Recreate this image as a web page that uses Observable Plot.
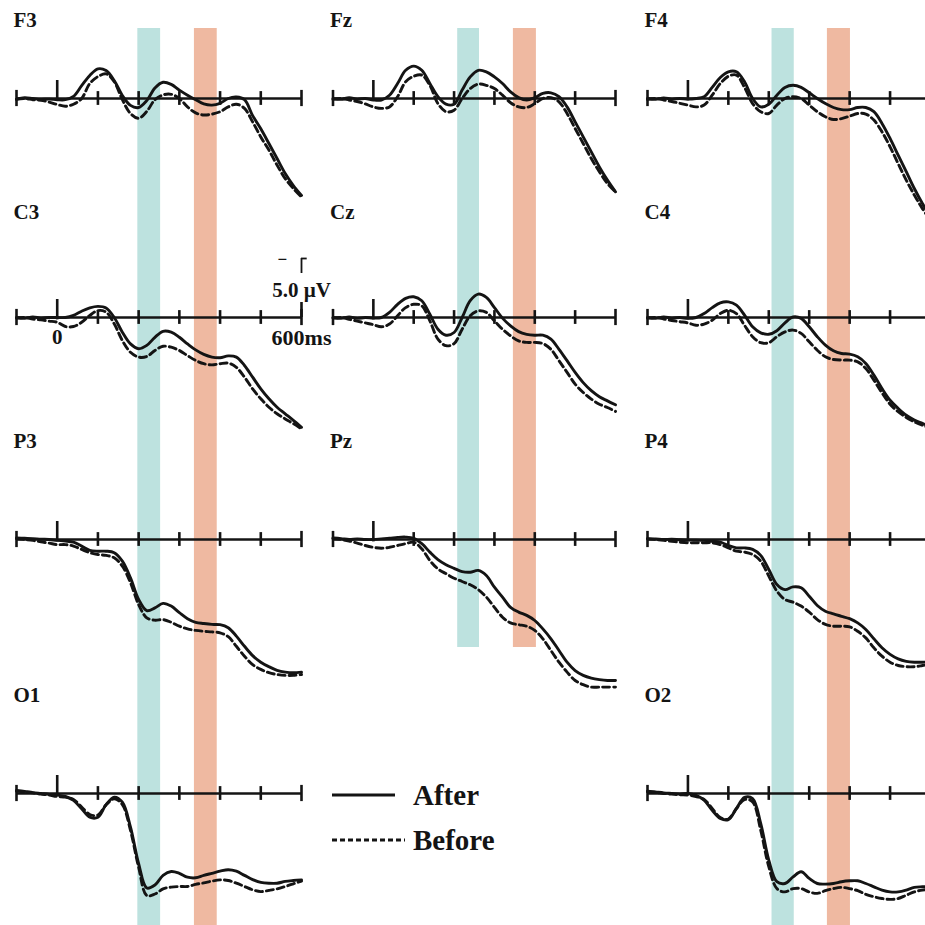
<!DOCTYPE html>
<html><head><meta charset="utf-8">
<script src="https://cdn.jsdelivr.net/npm/d3@7"></script>
<script src="https://cdn.jsdelivr.net/npm/@observablehq/plot@0.6"></script>
<style>
html,body{margin:0;padding:0;background:#fff;}
#fig{position:relative;width:925px;height:925px;overflow:hidden;background:#fff;}
</style></head><body><div id="fig"></div>
<script>
// ---------- data ----------
const times = [-100,-80,-60,-40,-20,0,20,40,60,80,100,120,140,160,180,200,220,240,260,280,300,320,340,360,380,400,420,440,460,480,500,520,540,560,580,600];
const conditions = ["After", "Before"];
const tickTimes = [-100,0,100,200,300,400,500,600];
const tealBands = [[198,254],[209,263],[208,263]];
const orangeBands = [[337,393],[347,404],[345,402]];
const calibUV = 5.0;

const F3After  = [0.2,-0.3,0,0.3,0.2, 0.4,0.4,-0.7,-4.3,-7.7,-9.9,-9.3,-6,-1,2.3,3.0,0.7,-3.5,-5.4,-4.7,-2.8,-1.1,0.4,1.8,2.2,1.6,0,-0.5,0.4,5.7,10.1,15,20,25,29,32.3];
const F3Before = [0.3,0,0.4,0.6,1.2, 2.0,2.6,1.9,0,-5,-7.3,-8.2,-5.6,0.4,5,6.6,4.3,0.4,-1.2,-1.4,0,2.8,4.8,5.5,5.2,4.4,2.8,1.9,3.3,7.8,12.8,17.2,22.2,26.7,30,32.8];
const C3After  = [0,0.3,-0.2,0.2,0, 0,0,-0.7,-2.1,-3.2,-3.7,-3.2,0,4.9,8.8,10.4,9.3,6.6,4.6,4.9,6.6,8.8,10.8,12.3,13.2,13.4,12.8,13.2,16,19.9,23.8,27.1,29.9,32.1,34.3,36.6];
const C3Before = [0.2,0,0.5,0.8,1.2, 1.6,3,3,1.6,-0.7,-2.3,-1.8,2.1,7.7,11.6,13.2,13,11,9.6,9.9,11,12.7,14.3,15.4,15.8,15.4,15.2,16.6,19.9,23.8,27.1,29.9,32.1,33.8,35.4,37.1];
const P3After  = [-0.5,-0.4,-0.3,-0.1,0, 0.3,0.5,0.9,2.2,3.6,3.9,3.9,4.4,7.2,12.8,20,23.7,22.8,21.3,22.2,24.4,26.4,27.6,28,28.3,28.4,29.4,32.2,35.6,38.7,40.9,42.4,43.6,44.2,44.4,44.2];
const P3Before = [-0.3,0,0.3,0.8,1.2, 1.7,1.7,2.2,3.3,4.4,5,5.3,6.1,8.9,14.4,21.7,26.1,26.9,26.7,27.6,28.9,29.8,30.3,30.6,30.8,31.1,32.4,35.6,38.9,41.7,43.3,44.4,45,45.3,45.3,45];
const O1After  = [-1,-0.7,-0.3,0,0.3, 0.5,1,2.3,5.1,7.9,7.9,3.7,1.2,2.9,11.2,23.4,31.5,30.5,27.3,26,26.6,27.9,28.1,27.3,26.6,25.9,25.4,25.9,27.3,28.7,29.6,29.9,29.9,29.3,29,28.8];
const O1Before = [-0.8,-0.5,-0.2,0.2,0.5, 1,1.2,2,4.5,7,7.2,3.8,1.8,3.7,12.3,24.6,34,33.5,31.8,31.2,31,31,30.3,29.8,29.2,28.8,29,29.9,31,32.1,32.7,32.3,31.8,31,30.1,29.2];
const FzAfter  = [0,0.3,-0.3,0.2,0, 0.5,0.5,-1.1,-5,-9.4,-10.8,-9.4,-5,-0.6,1.9,1.9,-2.8,-7.2,-9.4,-8.9,-7.2,-5,-2.2,-0.3,0.5,-0.3,-1.7,-1.9,-0.6,2.8,7.8,12.8,17.8,22.8,27.2,31.1];
const FzBefore = [0.3,0,0.5,1,1.8, 2.8,3.3,2.8,-0.6,-5.6,-7.4,-7.8,-4.4,1.7,4.4,3.9,0,-3.3,-4.8,-4.4,-3.3,-1.1,1.4,2.8,3,1.7,0,-0.3,1.1,5,10,15,20,24.4,28.3,31.1];
const CzAfter  = [0,0.3,-0.2,0.3,0, 0.2,0,-1.7,-4.4,-6.4,-6.9,-5.6,-1.1,3.9,5.9,5,0,-5.6,-7.8,-6.7,-3.3,0.2,2.8,4.7,5.6,5.9,5.9,7.2,10.6,14.4,18.3,21.7,24.4,26.4,27.8,29.1];
const CzBefore = [0.2,0,0.6,1.2,1.8, 2.4,3.1,2.2,-0.6,-3.3,-4.4,-3.9,1.1,7.2,9.4,8.7,3.9,-0.6,-2.2,-1.7,1.1,3.9,6.1,7.8,8.3,8.3,8.7,10.6,14.4,18.3,22.2,25,27.2,28.9,30,31.3];
const PzAfter  = [-0.5,-0.3,0,-0.2,0, 0,-0.2,-0.4,-0.7,-0.8,-0.4,1.4,4.2,6.7,8.4,9.6,10.7,10.9,10.3,12,15.9,19.2,22.6,24.2,25.3,27,29.8,33.1,37,40.9,43.7,45.3,46.2,46.7,47,47];
const PzBefore = [-0.3,0,0.5,1.2,2, 2.6,2.9,2.6,2,1.4,0.9,3.1,7,9.8,11.4,12.9,14,15.1,16.7,19.2,22.6,25.9,27.8,28.4,28.9,30.3,33.1,37,40.9,44.2,47,48.4,49.2,49.2,49.2,49.2];
const F4After  = [0,0.3,-0.2,0.2,0, 0.2,0,-0.6,-3.7,-7,-8.9,-8.9,-5.6,0,2.8,1.9,-1.1,-3.7,-4.4,-3.7,-1.9,0,1.7,3,3.7,3.7,3,3,4.4,8.3,13.3,18.9,24.4,30,35,39.4];
const F4Before = [0.3,0,0.5,1,1.6, 2.2,2.8,2.2,-1.1,-5,-7.4,-7.8,-3.7,1.7,4.4,5,2.2,0,-0.6,0,2.2,4.4,6.1,7,6.7,5.9,5,5.2,7.2,11.1,16.1,21.7,27.2,32.2,36.7,40.6];
const C4After  = [0,0.3,-0.2,0.2,0, 0.3,0,-1.3,-3.3,-4.9,-5.2,-4.1,-0.8,3.1,5.1,5.6,4.4,1.8,-0.2,0.3,3.1,6.4,9.2,11.1,12,12.2,13.1,15.3,19.2,23.7,27.6,30.3,32.6,34.2,35.3,36.4];
const C4Before = [0.2,0,0.5,1,1.4, 1.8,2.6,2.2,0.9,-1.3,-2.4,-1.3,2.6,6.4,8.4,8.4,6.4,4.8,4.2,5.3,8.1,10.9,13.1,14,14.2,14.2,14.8,17,20.9,25.1,28.9,31.4,33.3,34.8,35.9,37];
const P4After  = [-0.3,-0.2,0,-0.1,0.1, 0.2,0.2,0.3,0.6,0.9,2,2.8,2.8,3.3,5.3,10,15,16.7,15.8,16.1,18.9,22,23.9,24.8,25.6,26.4,27.8,30,33.1,36.1,38.3,39.8,40.6,40.9,40.9,40.8];
const P4Before = [-0.2,0,0.3,0.6,0.9, 1.1,1.1,1.1,1.1,1.7,2.8,3.9,4.2,5,7.2,12.2,17.2,20,20.9,22.2,24.2,26.7,28.3,28.9,28.9,29.1,30.6,32.8,36.1,38.9,40.9,42,42.4,42.4,42,41.5];
const O2After  = [-0.8,-0.5,-0.2,0,0.2, 0,0.6,2.2,5.6,8.3,8.7,5,1.3,1.7,10,22.2,29.4,30,27.8,26.1,28.3,30,30.2,30,29.4,29.1,29.1,30,31.1,32.2,32.8,32.8,32.2,31.3,31.1,31];
const O2Before = [-0.6,-0.4,0,0.2,0.4, 0.5,1,2,5,8,8.5,5,2,2.8,12.2,24.4,31.7,32.8,31.7,31.7,32.8,33.3,32.4,31.7,31.3,31.7,32.4,33.6,34.4,35,35.3,35,33.9,32.8,32.2,32];

const channelSeries = {
  F3:[F3After,F3Before], C3:[C3After,C3Before], P3:[P3After,P3Before], O1:[O1After,O1Before],
  Fz:[FzAfter,FzBefore], Cz:[CzAfter,CzBefore], Pz:[PzAfter,PzBefore],
  F4:[F4After,F4Before], C4:[C4After,C4Before], P4:[P4After,P4Before], O2:[O2After,O2Before]
};

// ---------- layout ----------
const H = 925, PX_PER_UV = 3;
const rowBase = [98, 317, 539, 793];   // pixel row of each zero line
const labelY  = [20, 212, 441, 695];   // pixel centre of channel names
const bandTop = 28, bandBottom = [925, 647, 925];
const columns = [
  {left:0,   width:320, mL:16,   mR:19, chans:["F3","C3","P3","O1"]},
  {left:316, width:320, mL:16.5, mR:21, chans:["Fz","Cz","Pz",null]},
  {left:631, width:320, mL:16,   mR:21, chans:["F4","C4","P4","O2"]}
];
const FONT = "'Liberation Serif','Times New Roman',serif";
const INK = "#141414";
const TEAL = "#bde2df", ORANGE = "#efb9a1";
const LW = 2.9, AXW = 2.6, DASH = "7,4";
const u = px => px / PX_PER_UV;   // pixel -> plot units (µV)

const fig = document.getElementById("fig");

columns.forEach((col, ci) => {
  const rows = col.chans.map((ch, r) => ({ch, r, base: u(rowBase[r])})).filter(d => d.ch);
  const pts = [];
  rows.forEach(row => {
    channelSeries[row.ch].forEach((arr, k) => {
      times.forEach((t, i) => pts.push({t, cond: conditions[k], ch: row.ch, y: row.base + arr[i]}));
    });
  });
  const ticks = [];
  rows.forEach(row => tickTimes.forEach(t => {
    let a = 2.3, b = 2.3;
    if (t === 0) { a = 6; b = 0.8; }
    if (t === -100 || t === 600) { a = 2.7; b = 2.7; }
    ticks.push({t, y1: row.base - a, y2: row.base + b});
  }));
  const marks = [
    Plot.rect([tealBands[ci]], {x1: d => d[0], x2: d => d[1], y1: u(bandTop), y2: u(bandBottom[ci]), fill: TEAL}),
    Plot.rect([orangeBands[ci]], {x1: d => d[0], x2: d => d[1], y1: u(bandTop), y2: u(bandBottom[ci]), fill: ORANGE}),
    Plot.ruleY(rows, {y: "base", x1: -100, x2: 600, stroke: INK, strokeWidth: AXW}),
    Plot.ruleX(ticks, {x: "t", y1: "y1", y2: "y2", stroke: INK, strokeWidth: AXW}),
    Plot.line(pts.filter(d => d.cond === "Before"), {x: "t", y: "y", z: "ch", curve: "catmull-rom", stroke: INK, strokeWidth: LW, strokeDasharray: DASH}),
    Plot.line(pts.filter(d => d.cond === "After"), {x: "t", y: "y", z: "ch", curve: "catmull-rom", stroke: INK, strokeWidth: LW}),
    Plot.text(rows, {x: -100, y: d => u(labelY[d.r]), text: "ch", textAnchor: "start", dx: -3, lineAnchor: "middle",
      fontSize: 21, fontWeight: "bold", fontFamily: FONT, fill: INK})
  ];
  if (ci === 0) {
    const b = u(rowBase[1]);
    marks.push(
      Plot.ruleX([600], {x: d => d, y1: b - calibUV, y2: b, stroke: INK, strokeWidth: AXW}),
      Plot.text(["0"], {x: 0, y: u(337), text: d => d, fontSize: 21, fontWeight: "bold", fontFamily: FONT, fill: INK}),
      Plot.text(["600ms"], {x: 600, y: u(337), text: d => d, fontSize: 22, fontWeight: "bold", fontFamily: FONT, fill: INK}),
      Plot.text([calibUV.toFixed(1) + " µV"], {x: 600, y: u(290), text: d => d, fontSize: 21, fontWeight: "bold", fontFamily: FONT, fill: INK}),
      Plot.text(["−"], {x: 553, y: u(259), text: d => d, fontSize: 17, fontWeight: "bold", fontFamily: FONT, fill: INK}),
      Plot.ruleX([600], {x: d => d, y1: u(258), y2: u(273), stroke: INK, strokeWidth: 1.8}),
      Plot.ruleY([u(258)], {y: d => d, x1: 600, x2: 614, stroke: INK, strokeWidth: 1.8})
    );
  }
  const svg = Plot.plot({
    width: col.width, height: H,
    marginLeft: col.mL, marginRight: col.mR, marginTop: 0, marginBottom: 0,
    x: {domain: [-100, 600], axis: null},
    y: {domain: [0, u(H)], range: [0, H], axis: null},
    style: {background: "transparent", overflow: "visible"},
    marks
  });
  svg.style.position = "absolute";
  svg.style.left = col.left + "px";
  svg.style.top = "0px";
  fig.appendChild(svg);
});

// ---------- legend ----------
const legend = d3.select(fig).append("svg")
  .attr("width", 200).attr("height", 100)
  .style("position", "absolute").style("left", "330px").style("top", "775px");
conditions.forEach((c, i) => {
  const y = 20 + i * 45;
  legend.append("line").attr("x1", 2).attr("x2", i === 0 ? 65 : 75).attr("y1", y).attr("y2", y)
    .attr("stroke", INK).attr("stroke-width", LW).attr("stroke-dasharray", i === 0 ? null : "5,3");
  legend.append("text").attr("x", 83).attr("y", y + 10).text(c)
    .attr("font-family", FONT).attr("font-weight", "bold").attr("font-size", 29).attr("fill", INK);
});
</script></body></html>
